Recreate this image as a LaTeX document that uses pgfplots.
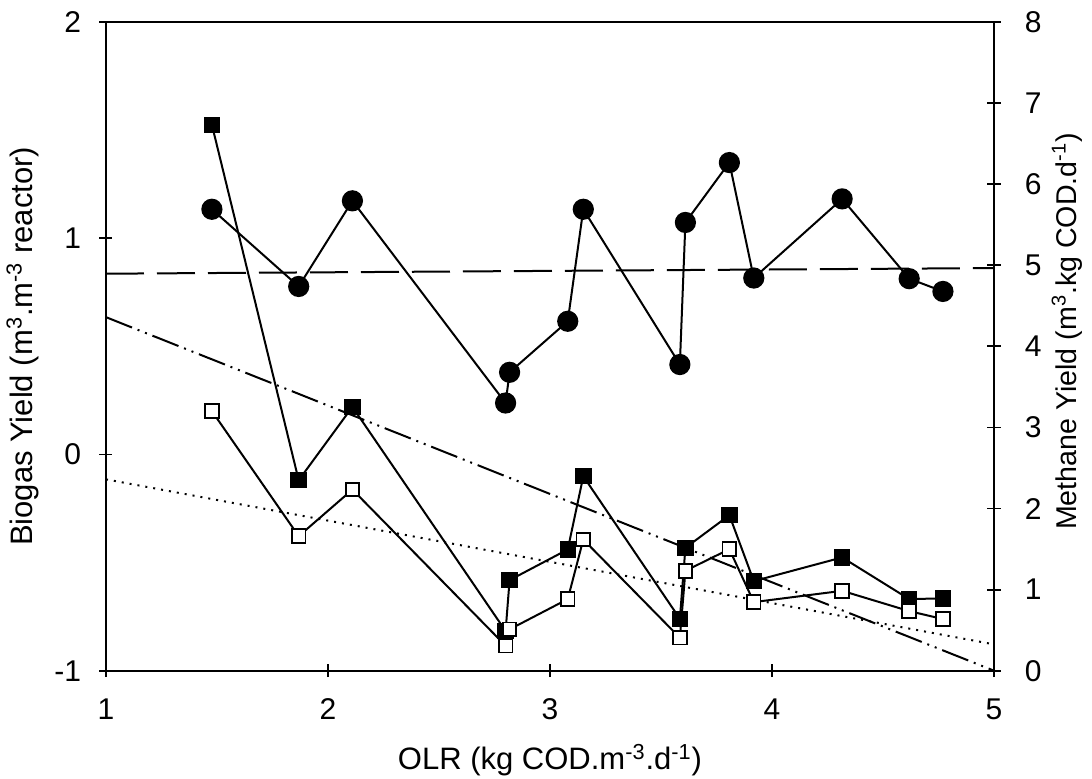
\documentclass[border=0pt]{standalone}
\usepackage{fontspec}
\setmainfont{Liberation Sans}
\usepackage{pgfplots}
\pgfplotsset{compat=1.18}

\pgfplotstableread{
x c
1.477 1.134
1.868 0.777
2.110 1.173
2.800 0.238
2.818 0.380
3.080 0.616
3.150 1.134
3.585 0.416
3.610 1.073
3.808 1.350
3.918 0.816
4.316 1.182
4.618 0.813
4.770 0.754
}\circles

\pgfplotstableread{
x f o
1.477 6.733 3.202
1.868 2.349 1.659
2.110 3.254 2.234
2.800 0.489 0.308
2.818 1.117 0.510
3.080 1.495 0.883
3.150 2.398 1.618
3.585 0.640 0.406
3.610 1.515 1.232
3.808 1.918 1.499
3.918 1.105 0.846
4.316 1.397 0.985
4.618 0.883 0.735
4.770 0.892 0.637
}\squares

\begin{document}
\fontsize{15}{18}\selectfont
\begin{tikzpicture}
\useasboundingbox (-53pt,-53.65pt) rectangle (493pt,335.35pt);
\pgfplotsset{
  common/.style={
    width=444pt, height=324.35pt, scale only axis,
    xmin=1, xmax=5,
    /pgf/number format/assume math mode=true,
    tick align=center,
    major tick length=6.5pt,
    axis line style={line width=0.9pt, black},
    every tick/.style={line width=0.9pt, black},
    tick label style={font=\fontsize{15}{18}\selectfont},
    label style={font=\fontsize{15.5}{18}\selectfont},
  }
}
\begin{axis}[common,
  ymin=-1, ymax=2,
  xtick={1,2,3,4,5}, ytick={-1,0,1,2},
  xtick pos=left, ytick pos=left,
  xticklabel style={anchor=north, yshift=-5.5pt},
  yticklabel style={anchor=east, xshift=-4pt},
  xlabel={OLR (kg COD.m\textsuperscript{-3}.d\textsuperscript{-1})},
  ylabel={Biogas Yield (m\textsuperscript{3}.m\textsuperscript{-3} reactor)},
  xlabel style={at={(axis description cs:0.5,0)}, anchor=base, yshift=-49.5pt},
  ylabel style={at={(axis description cs:-0.094,0.5)}, anchor=center},
]
\addplot[black, line width=1pt, dash pattern=on 19pt off 6.5pt] coordinates {(1,0.836) (5,0.862)};
\addplot[black, line width=1pt, mark=*, mark size=4.8pt, mark options={solid}] table[x=x,y=c] {\circles};
\end{axis}
\begin{axis}[common,
  ymin=0, ymax=8,
  ytick={0,1,2,3,4,5,6,7,8},
  axis x line=none,
  axis y line*=right,
  ytick pos=right,
  yticklabel style={anchor=west, xshift=7pt},
  ylabel={Methane Yield (m\textsuperscript{3}.kg COD.d\textsuperscript{-1})},
  ylabel style={at={(axis description cs:1.082,0.523)}, anchor=center, font=\fontsize{14.3}{17}\selectfont},
]
\addplot[black, line width=1pt, dash pattern=on 14pt off 3pt on 1pt off 3pt on 1pt off 3pt] coordinates {(1,4.36) (5,0)};
\addplot[black, line width=1pt, dash pattern=on 1pt off 3pt] coordinates {(1,2.36) (5,0.325)};
\addplot[black, line width=1pt, mark=square*, mark size=3.6pt, mark options={solid, fill=black}] table[x=x,y=f] {\squares};
\addplot[black, line width=1pt, mark=square*, mark size=3.4pt, mark options={solid, fill=white, line width=0.9pt}] table[x=x,y=o] {\squares};
\end{axis}
\end{tikzpicture}
\end{document}
